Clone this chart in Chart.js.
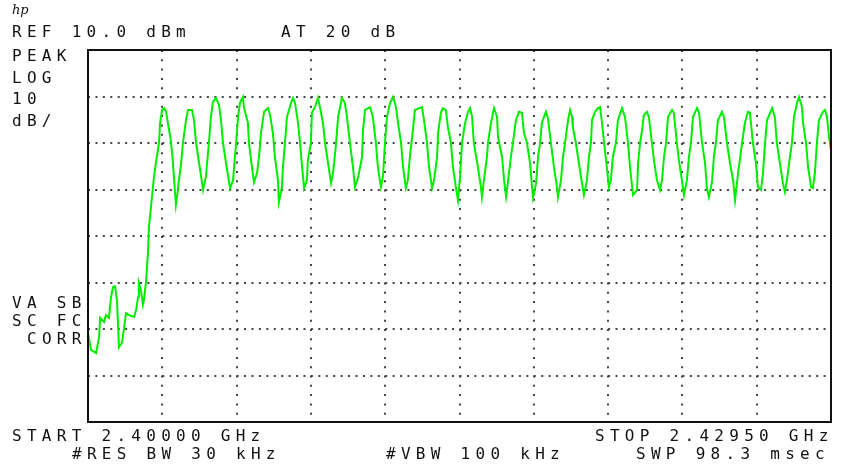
<!DOCTYPE html>
<html>
<head>
<meta charset="utf-8">
<title>Spectrum analyzer trace</title>
<script src="https://cdn.jsdelivr.net/npm/chart.js@4.4.1/dist/chart.umd.min.js"></script>
<style>
  html, body { margin: 0; padding: 0; background: #fff; }
  #wrap { position: relative; width: 851px; height: 470px; }
  #wrap canvas { position: absolute; left: 0; top: 0; }
  .lbl {
    position: absolute;
    font-family: "DejaVu Sans Mono", "Liberation Mono", monospace;
    font-size: 16px;
    line-height: 16px;
    letter-spacing: 5.28px;
    color: #111;
    white-space: pre;
  }
  .logo {
    position: absolute; left: 12px; top: 2px;
    font-family: "DejaVu Serif", serif; font-style: italic; font-size: 13px; color: #111;
  }
</style>
</head>
<body>
<div id="wrap">
  <canvas id="trace" width="851" height="470"></canvas>
  <div class="logo">hp</div>
  <div class="lbl" style="left:12px;top:24px">REF 10.0 dBm</div>
  <div class="lbl" style="left:281px;top:24px">AT 20 dB</div>
  <div class="lbl" style="left:12px;top:48px">PEAK</div>
  <div class="lbl" style="left:12px;top:70px">LOG</div>
  <div class="lbl" style="left:12px;top:91px">10</div>
  <div class="lbl" style="left:12px;top:113px">dB/</div>
  <div class="lbl" style="left:12px;top:295px">VA SB</div>
  <div class="lbl" style="left:12px;top:313px">SC FC</div>
  <div class="lbl" style="left:27px;top:331px">CORR</div>
  <div class="lbl" style="left:12px;top:428px">START 2.40000 GHz</div>
  <div class="lbl" style="left:595px;top:428px">STOP 2.42950 GHz</div>
  <div class="lbl" style="left:72px;top:446px">#RES BW 30 kHz</div>
  <div class="lbl" style="left:386px;top:446px">#VBW 100 kHz</div>
  <div class="lbl" style="left:636px;top:446px">SWP 98.3 msec</div>
</div>
<script>
// sweep: 2.40000 GHz .. 2.42950 GHz, frequencies given in MHz above start
const spanMHz = 29.5;
const refLevelDbm = 10;
const dbPerDiv = 10;
const divisionsY = 8;
const divisionsX = 10;

const freqOffsetMHz = [
  0.00, 0.12, 0.32, 0.44, 0.48, 0.64, 0.71, 0.83, 0.91, 0.99,
  1.07, 1.15, 1.23, 1.35, 1.43, 1.51, 1.63, 1.83, 1.91, 1.99,
  2.02, 2.10, 2.18, 2.22, 2.30, 2.38, 2.42, 2.50, 2.62, 2.70,
  2.82, 2.86, 2.94, 3.02, 3.10, 3.22, 3.30, 3.37, 3.49, 3.57,
  3.61, 3.69, 3.77, 3.89, 3.97, 4.13, 4.21, 4.29, 4.41, 4.57,
  4.68, 4.80, 4.88, 4.96, 5.08, 5.20, 5.28, 5.36, 5.48, 5.64,
  5.76, 5.80, 5.88, 5.96, 6.03, 6.15, 6.19, 6.35, 6.39, 6.51,
  6.59, 6.71, 6.79, 6.87, 6.99, 7.15, 7.23, 7.34, 7.42, 7.54,
  7.58, 7.70, 7.74, 7.82, 7.90, 8.06, 8.14, 8.22, 8.34, 8.42,
  8.50, 8.58, 8.69, 8.73, 8.85, 8.89, 9.01, 9.13, 9.21, 9.33,
  9.41, 9.53, 9.65, 9.73, 9.85, 9.93, 10.08, 10.20, 10.28, 10.40,
  10.52, 10.60, 10.72, 10.88, 10.92, 11.00, 11.20, 11.31, 11.43, 11.51,
  11.63, 11.71, 11.79, 11.87, 11.99, 12.11, 12.23, 12.31, 12.43, 12.51,
  12.62, 12.70, 12.78, 12.90, 12.98, 13.26, 13.34, 13.46, 13.54, 13.66,
  13.74, 13.86, 13.90, 14.01, 14.09, 14.21, 14.29, 14.41, 14.49, 14.61,
  14.69, 14.77, 14.85, 14.97, 15.09, 15.17, 15.25, 15.32, 15.48, 15.60,
  15.64, 15.72, 15.84, 15.88, 16.00, 16.12, 16.24, 16.28, 16.44, 16.52,
  16.60, 16.67, 16.79, 16.87, 16.99, 17.11, 17.23, 17.31, 17.43, 17.55,
  17.63, 17.67, 17.79, 17.87, 17.95, 18.02, 18.18, 18.26, 18.38, 18.50,
  18.62, 18.66, 18.78, 18.86, 18.94, 19.06, 19.14, 19.22, 19.25, 19.37,
  19.49, 19.61, 19.69, 19.81, 19.89, 19.97, 20.01, 20.13, 20.25, 20.33,
  20.41, 20.49, 20.60, 20.68, 20.76, 20.84, 20.96, 21.04, 21.20, 21.32,
  21.44, 21.52, 21.64, 21.80, 21.84, 21.92, 22.00, 22.07, 22.19, 22.27,
  22.39, 22.47, 22.59, 22.71, 22.79, 22.87, 22.95, 23.03, 23.19, 23.26,
  23.38, 23.46, 23.58, 23.66, 23.78, 23.86, 23.94, 24.02, 24.18, 24.26,
  24.38, 24.50, 24.57, 24.65, 24.77, 24.85, 24.93, 25.01, 25.17, 25.25,
  25.37, 25.49, 25.61, 25.69, 25.81, 25.97, 26.08, 26.20, 26.28, 26.40,
  26.52, 26.60, 26.72, 26.80, 26.88, 26.96, 27.16, 27.27, 27.35, 27.47,
  27.59, 27.67, 27.75, 27.87, 27.95, 28.03, 28.15, 28.23, 28.35, 28.39,
  28.51, 28.59, 28.71, 28.78, 28.86, 28.94, 29.02, 29.18, 29.26, 29.34,
  29.42, 29.50
];

const levelDbm = [
  -50.9, -54.5, -55.2, -51.7, -47.6, -48.5, -47.0, -47.6, -43.3, -41.0,
  -40.8, -43.8, -53.9, -53.0, -49.8, -46.6, -47.0, -47.4, -45.9, -43.1,
  -40.1, -41.6, -44.8, -43.8, -40.1, -33.7, -28.1, -23.8, -17.3, -14.1,
  -10.0, -5.7, -2.9, -2.5, -3.3, -7.2, -10.0, -14.1, -23.3, -20.1,
  -18.0, -14.7, -10.0, -5.1, -2.9, -2.9, -5.1, -10.0, -14.3, -20.1,
  -17.3, -10.0, -4.4, -1.2, -0.3, -1.8, -5.1, -10.0, -14.3, -19.7,
  -18.0, -15.2, -10.0, -4.4, -1.4, -0.1, -2.3, -5.7, -10.0, -15.2,
  -18.4, -16.5, -13.0, -7.8, -3.3, -2.5, -4.0, -7.8, -13.0, -18.0,
  -22.7, -19.5, -15.2, -10.0, -4.4, -1.4, -0.3, -1.4, -5.7, -10.0,
  -15.2, -19.7, -18.0, -13.7, -10.0, -3.5, -2.3, -0.3, -2.3, -5.7,
  -10.0, -14.3, -18.6, -16.5, -10.0, -4.4, -0.3, -1.4, -4.4, -10.0,
  -15.2, -19.5, -17.5, -13.0, -7.2, -2.9, -2.3, -4.4, -10.0, -15.2,
  -19.5, -17.3, -10.0, -4.4, -1.4, -0.1, -2.3, -5.7, -10.0, -15.2,
  -19.7, -18.0, -13.0, -7.2, -2.9, -2.3, -5.1, -10.0, -15.2, -19.7,
  -18.0, -13.0, -7.8, -3.5, -2.5, -2.9, -6.6, -10.0, -15.2, -19.7,
  -22.3, -17.3, -10.0, -5.7, -3.3, -2.5, -4.4, -10.0, -15.2, -19.5,
  -21.6, -18.0, -13.0, -10.0, -5.7, -2.5, -4.4, -8.7, -13.0, -18.0,
  -21.6, -18.6, -13.0, -10.0, -5.1, -3.3, -3.5, -7.8, -10.0, -14.3,
  -19.5, -21.8, -18.6, -13.0, -10.0, -5.7, -3.3, -4.6, -10.0, -15.2,
  -19.5, -21.6, -18.0, -13.0, -10.0, -5.1, -2.9, -4.4, -6.6, -10.0,
  -14.3, -18.6, -21.2, -18.0, -13.0, -10.0, -5.1, -3.3, -2.5, -2.3,
  -5.7, -10.0, -15.2, -19.5, -18.0, -13.0, -10.0, -5.1, -2.5, -4.4,
  -10.0, -15.2, -21.2, -20.1, -14.3, -10.0, -7.2, -4.0, -3.3, -4.4,
  -10.0, -13.7, -18.0, -20.1, -18.0, -13.0, -10.0, -4.4, -2.9, -3.5,
  -10.0, -13.7, -18.0, -21.2, -18.0, -13.0, -10.0, -4.4, -2.5, -3.5,
  -10.0, -14.3, -19.5, -21.6, -18.6, -13.0, -10.0, -5.1, -3.3, -4.4,
  -10.0, -14.3, -18.0, -22.3, -16.5, -10.0, -5.7, -3.3, -3.5, -10.0,
  -14.3, -19.5, -20.1, -16.5, -10.0, -5.1, -2.5, -4.4, -10.0, -14.3,
  -18.6, -20.5, -18.0, -13.0, -10.0, -4.4, -1.4, -0.1, -2.3, -5.7,
  -10.0, -15.2, -19.5, -19.7, -16.5, -10.0, -5.1, -3.3, -2.9, -4.4,
  -8.7, -11.5
];

// black frame around the graticule (top and right edges are not axes)
const framePlugin = {
  id: 'frame',
  afterDraw(chart) {
    const { ctx, chartArea: a } = chart;
    ctx.save();
    ctx.strokeStyle = '#111';
    ctx.lineWidth = 2;
    ctx.strokeRect(a.left, a.top, a.right - a.left, a.bottom - a.top);
    ctx.restore();
  }
};

const points = freqOffsetMHz.map((f, i) => ({ x: f, y: levelDbm[i] }));

new Chart(document.getElementById('trace').getContext('2d'), {
  type: 'line',
  data: {
    datasets: [{
      data: points,
      borderColor: '#00ee00',
      borderWidth: 2,
      pointRadius: 0,
      tension: 0,
      fill: false
    }]
  },
  options: {
    responsive: false,
    animation: false,
    events: [],
    layout: { padding: { left: 88, top: 50, right: 20, bottom: 48 } },
    plugins: {
      legend: { display: false },
      tooltip: { enabled: false }
    },
    scales: {
      x: {
        type: 'linear',
        min: 0,
        max: spanMHz,
        ticks: { display: false, count: divisionsX + 1 },
        grid: { color: '#444', lineWidth: 2, drawTicks: false },
        border: { display: false, dash: [2, 7.3] }
      },
      y: {
        min: refLevelDbm - dbPerDiv * divisionsY,
        max: refLevelDbm,
        ticks: { display: false, count: divisionsY + 1 },
        grid: { color: '#444', lineWidth: 2, drawTicks: false },
        border: { display: false, dash: [2, 5.43] }
      }
    }
  },
  plugins: [framePlugin]
});
</script>
</body>
</html>
